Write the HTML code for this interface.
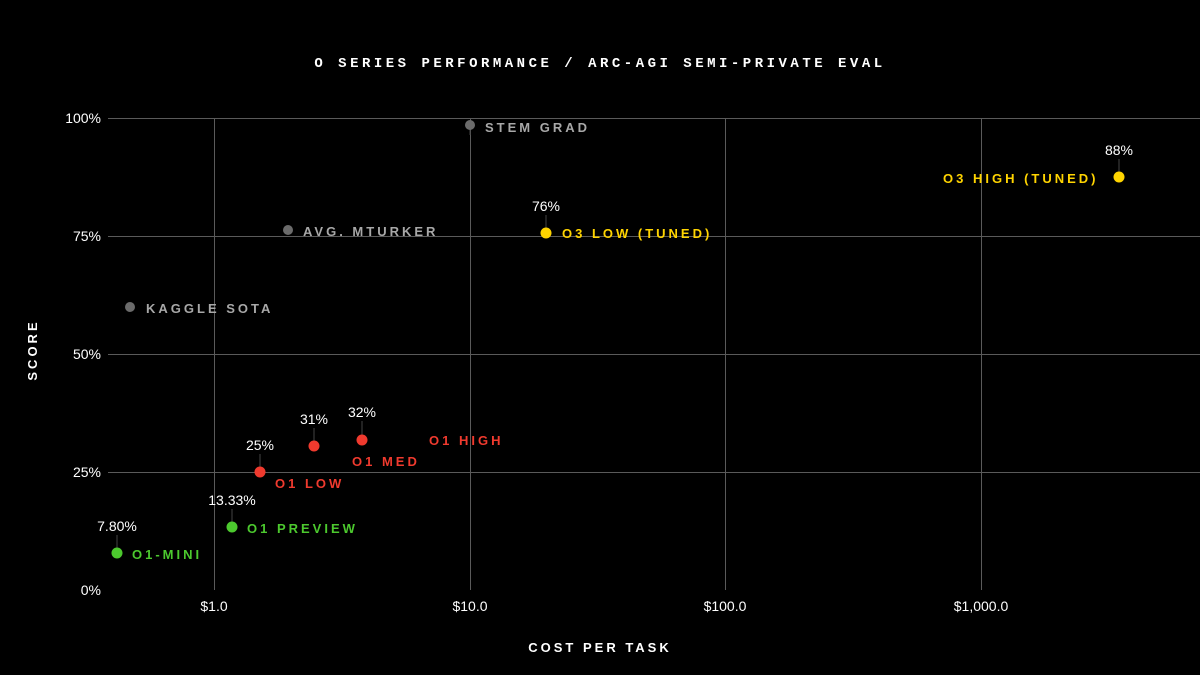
<!DOCTYPE html>
<html><head><meta charset="utf-8"><style>
html,body{margin:0;padding:0;background:#000;}
svg{display:block;font-family:"Liberation Sans",sans-serif;}
.lbl{font-size:13px;font-weight:bold;letter-spacing:3px;}
.pct{font-size:14px;fill:#fff;}
.tick{font-size:14px;fill:#fff;}
</style></head><body>
<svg width="1200" height="675" viewBox="0 0 1200 675">
<rect width="1200" height="675" fill="#000"/>
<text x="600" y="67" text-anchor="middle" fill="#fff" font-family="Liberation Mono,monospace" font-size="14" font-weight="bold" letter-spacing="3.5">O SERIES PERFORMANCE / ARC-AGI SEMI-PRIVATE EVAL</text>
<g stroke="#5a5a5a" stroke-width="1">
<line x1="108" y1="118.5" x2="1200" y2="118.5"/>
<line x1="108" y1="236.5" x2="1200" y2="236.5"/>
<line x1="108" y1="354.5" x2="1200" y2="354.5"/>
<line x1="108" y1="472.5" x2="1200" y2="472.5"/>
<line x1="214.5" y1="118" x2="214.5" y2="590"/>
<line x1="470.5" y1="118" x2="470.5" y2="590"/>
<line x1="725.5" y1="118" x2="725.5" y2="590"/>
<line x1="981.5" y1="118" x2="981.5" y2="590"/>
</g>
<g class="tick" text-anchor="end">
<text x="101" y="123">100%</text><text x="101" y="241">75%</text><text x="101" y="359">50%</text><text x="101" y="477">25%</text><text x="101" y="595">0%</text>
</g>
<g class="tick" text-anchor="middle">
<text x="214" y="611">$1.0</text><text x="470" y="611">$10.0</text><text x="725" y="611">$100.0</text><text x="981" y="611">$1,000.0</text>
</g>
<text x="600" y="652" text-anchor="middle" fill="#fff" class="lbl">COST PER TASK</text>
<text transform="translate(37,350) rotate(-90)" text-anchor="middle" fill="#fff" class="lbl">SCORE</text>
<g stroke="#444" stroke-width="1">
<line x1="117" y1="535" x2="117" y2="548"/>
<line x1="232" y1="509" x2="232" y2="522"/>
<line x1="260" y1="454" x2="260" y2="467"/>
<line x1="314" y1="428" x2="314" y2="441"/>
<line x1="362" y1="421" x2="362" y2="435"/>
<line x1="546" y1="215" x2="546" y2="228"/>
<line x1="1119" y1="159" x2="1119" y2="172"/>
<line x1="470" y1="125" x2="470" y2="135"/>
</g>
<g fill="#6b6b6b"><circle cx="470" cy="125" r="5"/><circle cx="288" cy="230" r="5"/><circle cx="130" cy="307" r="5"/></g>
<g fill="#a8a8a8" class="lbl"><text x="485" y="132">STEM GRAD</text><text x="303" y="236">AVG. MTURKER</text><text x="146" y="313">KAGGLE SOTA</text></g>
<g fill="#f03a2e"><circle cx="260" cy="472" r="5.5"/><circle cx="314" cy="446" r="5.5"/><circle cx="362" cy="440" r="5.5"/></g>
<g fill="#f03a2e" class="lbl"><text x="275" y="488">O1 LOW</text><text x="352" y="466">O1 MED</text><text x="429" y="445">O1 HIGH</text></g>
<g fill="#4cc92e"><circle cx="117" cy="553" r="5.5"/><circle cx="232" cy="527" r="5.5"/></g>
<g fill="#4cc92e" class="lbl"><text x="132" y="559">O1-MINI</text><text x="247" y="533">O1 PREVIEW</text></g>
<g fill="#ffd400"><circle cx="546" cy="233" r="5.5"/><circle cx="1119" cy="177" r="5.5"/></g>
<g fill="#ffd400" class="lbl"><text x="562" y="238">O3 LOW (TUNED)</text><text x="943" y="183">O3 HIGH (TUNED)</text></g>
<g class="pct" text-anchor="middle">
<text x="117" y="531">7.80%</text><text x="232" y="505">13.33%</text><text x="260" y="450">25%</text><text x="314" y="424">31%</text><text x="362" y="417">32%</text><text x="546" y="211">76%</text><text x="1119" y="155">88%</text>
</g>
</svg>
</body></html>
